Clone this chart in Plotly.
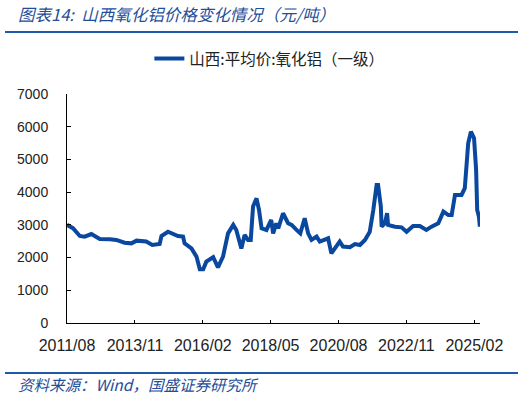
import plotly.graph_objects as go

dates = [
    "2011-08-01", "2011-10-12", "2012-01-03", "2012-03-01", "2012-05-22", "2012-09-01",
    "2013-01-01", "2013-03-20", "2013-06-29", "2013-09-20", "2013-11-20", "2014-03-17",
    "2014-05-30", "2014-08-27", "2014-09-18", "2014-11-18", "2014-12-06", "2015-04-06",
    "2015-06-06", "2015-06-25", "2015-09-16", "2015-11-16", "2015-12-26", "2016-02-05",
    "2016-03-14", "2016-06-05", "2016-08-02", "2016-10-02", "2016-12-02", "2017-02-03",
    "2017-03-12", "2017-05-12", "2017-06-21", "2017-08-01", "2017-09-03", "2017-10-01",
    "2017-11-12", "2017-12-12", "2018-01-12", "2018-03-12", "2018-05-09", "2018-06-01",
    "2018-07-09", "2018-08-02", "2018-09-29", "2018-11-29", "2019-01-11", "2019-03-11",
    "2019-04-26", "2019-06-18", "2019-07-30", "2019-09-09", "2019-11-09", "2019-12-18",
    "2020-02-18", "2020-03-28", "2020-05-06", "2020-06-18", "2020-08-15", "2020-09-24",
    "2020-12-16", "2021-02-16", "2021-04-17", "2021-06-17", "2021-08-14", "2021-09-26",
    "2021-11-05", "2021-11-23", "2021-12-26", "2022-01-05", "2022-02-14", "2022-03-12",
    "2022-03-24", "2022-06-15", "2022-09-03", "2022-11-03", "2023-01-21", "2023-04-12",
    "2023-07-01", "2023-09-01", "2023-11-22", "2024-01-23", "2024-03-23", "2024-05-02",
    "2024-06-11", "2024-08-30", "2024-10-08", "2024-11-18", "2024-12-21", "2025-01-28",
    "2025-02-22", "2025-03-07", "2025-03-28", "2025-04-08",
]
prices = [
    3000, 2900, 2660, 2640, 2720, 2570,
    2560, 2540, 2455, 2435, 2517, 2490,
    2385, 2415, 2660, 2790, 2790, 2660,
    2640, 2435, 2280, 2030, 1640, 1640,
    1875, 2010, 1700, 2030, 2740, 3000,
    2845, 2280, 2690, 2540, 2540, 3560,
    3810, 3455, 2895, 2845, 3150, 2740,
    3050, 2895, 3355, 3050, 3000, 2845,
    2740, 3200, 2740, 2540, 2640, 2490,
    2540, 2590, 2130, 2280, 2490, 2335,
    2315, 2415, 2385, 2540, 2790, 3455,
    4220, 4220, 3560, 2945, 3050, 3355,
    3000, 2945, 2925, 2790, 2965, 2965,
    2845, 2945, 3050, 3405, 3300, 3300,
    3915, 3915, 4120, 5495, 5850, 5650,
    4680, 3455, 3250, 2945,
]
series_name = "山西:平均价:氧化铝（一级）"
tick_dates = ["2011-08-01", "2013-11-01", "2016-02-01", "2018-05-01",
              "2020-08-01", "2022-11-01", "2025-02-01"]
tick_labels = ["2011/08", "2013/11", "2016/02", "2018/05", "2020/08", "2022/11", "2025/02"]
y_ticks = [0, 1000, 2000, 3000, 4000, 5000, 6000, 7000]

title_text = "图表14:  山西氧化铝价格变化情况（元/吨）"
source_text = "资料来源：Wind，国盛证券研究所"

W, H = 525, 399
L, R, T, B = 67, 45, 94, 76
PW = W - L - R
PH = H - T - B

def px(x):
    return (x - L) / PW

def py(y):
    return (H - B - y) / PH

BLUE = "#0A48A0"
HEAD = "#1F4E9A"
CJK = "Noto Sans CJK SC"

fig = go.Figure()
fig.add_trace(go.Scatter(
    x=dates, y=prices, mode="lines", name=series_name,
    line=dict(color=BLUE, width=4),
))

fig.update_layout(
    width=W, height=H,
    margin=dict(l=L, r=R, t=T, b=B, autoexpand=False),
    paper_bgcolor="white", plot_bgcolor="white",
    showlegend=True,
    legend=dict(
        orientation="h", x=0.49, xanchor="center", y=py(59), yanchor="middle",
        font=dict(family=CJK, size=15.5, color="#222222"),
        bgcolor="rgba(0,0,0,0)",
    ),
    xaxis=dict(
        type="date", range=["2011-08-01", "2025-04-10"],
        tickvals=tick_dates, ticktext=tick_labels,
        showgrid=False, zeroline=False,
        showline=True, linecolor="black", linewidth=1,
        ticks="inside", ticklen=3, tickcolor="black",
        tickfont=dict(family="Liberation Sans", size=16, color="#222222"),
        ticklabelstandoff=8,
    ),
    yaxis=dict(
        range=[0, 7000], tickvals=y_ticks,
        showgrid=False, zeroline=False,
        showline=True, linecolor="black", linewidth=1,
        ticks="inside", ticklen=4, tickcolor="black",
        tickfont=dict(family="Liberation Sans", size=14, color="#222222"),
        ticklabelstandoff=15,
    ),
    shapes=[
        dict(type="line", xref="paper", yref="paper",
             x0=px(5), x1=px(518), y0=py(32), y1=py(32),
             line=dict(color="#1F5AAA", width=2)),
        dict(type="line", xref="paper", yref="paper",
             x0=px(5), x1=px(518), y0=py(373), y1=py(373),
             line=dict(color="#1F5AAA", width=2)),
    ],
    annotations=[
        dict(text=title_text, xref="paper", yref="paper",
             x=px(16), y=py(14), xanchor="left", yanchor="middle",
             showarrow=False,
             font=dict(family=CJK, size=16.5, color=HEAD, style="italic")),
        dict(text=source_text, xref="paper", yref="paper",
             x=px(16), y=py(384), xanchor="left", yanchor="middle",
             showarrow=False,
             font=dict(family=CJK, size=15.5, color=HEAD, style="italic")),
    ],
)

fig.write_html("out.html", config={"displayModeBar": False},
               post_script="document.body.style.margin='0';")
